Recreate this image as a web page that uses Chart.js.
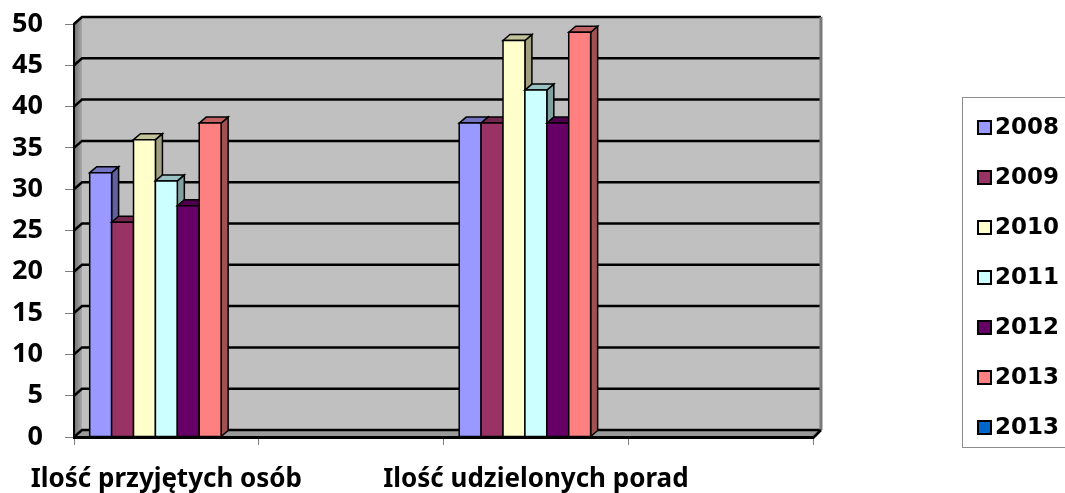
<!DOCTYPE html>
<html>
<head>
<meta charset="utf-8">
<script src="https://cdn.jsdelivr.net/npm/chart.js@4/dist/chart.umd.min.js"></script>
<style>
  html, body { margin: 0; padding: 0; background: #fff; }
  #wrap { position: relative; width: 1065px; height: 493px; overflow: hidden; }
  #legend {
    position: absolute; left: 962px; top: 97px; width: 130px; height: 351px;
    border: 1px solid #8c8c8c; box-sizing: border-box; padding-top: 3px;
    font: bold 23px "DejaVu Sans", sans-serif;
  }
  #legend .item { height: 50px; line-height: 50px; white-space: nowrap; }
  #legend .sw {
    display: inline-block; width: 11px; height: 11px; border: 2px solid #000;
    margin-left: 14px; margin-right: 3px; vertical-align: -1px;
  }
</style>
</head>
<body>
<div id="wrap">
  <canvas id="chart" width="1065" height="493"></canvas>
  <div id="legend"></div>
</div>
<script>
const categories = ['Ilość przyjętych osób', '', 'Ilość udzielonych porad', ''];
const seriesNames = ['2008', '2009', '2010', '2011', '2012', '2013', '2013'];
const seriesColors = ['#9999ff', '#993366', '#ffffcc', '#ccffff', '#660066', '#ff8080', '#0066cc'];
const v2008 = [32, null, 38, null];
const v2009 = [26, null, 38, null];
const v2010 = [36, null, 48, null];
const v2011 = [31, null, 42, null];
const v2012 = [28, null, 38, null];
const v2013 = [38, null, 49, null];
const v2013b = [0, null, 0, null];
const seriesValues = [v2008, v2009, v2010, v2011, v2012, v2013, v2013b];
const yTicks = [0, 5, 10, 15, 20, 25, 30, 35, 40, 45, 50];

const WX = 8, WY = 7;   // wall depth
const BX = 7, BY = 6;   // bar depth

function shade(hex, f) {
  const n = parseInt(hex.slice(1), 16);
  const r = Math.round(((n >> 16) & 255) * f);
  const g = Math.round(((n >> 8) & 255) * f);
  const b = Math.round((n & 255) * f);
  return `rgb(${r},${g},${b})`;
}

function poly(ctx, pts, fill, stroke, lw) {
  ctx.beginPath();
  ctx.moveTo(pts[0][0], pts[0][1]);
  for (let i = 1; i < pts.length; i++) ctx.lineTo(pts[i][0], pts[i][1]);
  ctx.closePath();
  if (fill) { ctx.fillStyle = fill; ctx.fill(); }
  if (stroke) { ctx.strokeStyle = stroke; ctx.lineWidth = lw; ctx.stroke(); }
}

const wallsPlugin = {
  id: 'walls',
  beforeDraw(chart) {
    const { ctx, chartArea: a } = chart;
    const ys = chart.scales.y;
    ctx.save();
    // back wall
    ctx.fillStyle = '#c0c0c0';
    ctx.fillRect(a.left + WX, a.top - WY, a.right - a.left, a.bottom - a.top);
    // side wall
    const g = ctx.createLinearGradient(a.left, 0, a.left + WX, 0);
    g.addColorStop(0, '#707070');
    g.addColorStop(1, '#a8a8a8');
    poly(ctx, [[a.left, a.top], [a.left + WX, a.top - WY], [a.left + WX, a.bottom - WY], [a.left, a.bottom]], g);
    // floor
    poly(ctx, [[a.left, a.bottom], [a.left + WX, a.bottom - WY], [a.right + WX, a.bottom - WY], [a.right, a.bottom]], '#9a9a9a');
    // grid lines on the back and side wall
    ctx.strokeStyle = '#000';
    ctx.lineWidth = 2.5;
    for (const v of yTicks) {
      const y = ys.getPixelForValue(v);
      ctx.beginPath();
      ctx.moveTo(a.left, y);
      ctx.lineTo(a.left + WX, y - WY);
      ctx.lineTo(a.right + WX, y - WY);
      ctx.stroke();
    }
    // right edge of the back wall
    ctx.strokeStyle = '#7a7a7a';
    ctx.lineWidth = 3;
    ctx.beginPath();
    ctx.moveTo(a.right + WX, a.top - WY);
    ctx.lineTo(a.right + WX, a.bottom - WY);
    ctx.stroke();
    // front edge of the floor on the right
    ctx.strokeStyle = '#000';
    ctx.lineWidth = 2.5;
    ctx.beginPath();
    ctx.moveTo(a.right, a.bottom + 1);
    ctx.lineTo(a.right + WX, a.bottom - WY);
    ctx.stroke();
    ctx.restore();
  },
  afterDatasetsDraw(chart) {
    const { ctx } = chart;
    ctx.save();
    ctx.lineJoin = 'miter';
    for (let c = 0; c < categories.length; c++) {
      for (let i = 0; i < seriesValues.length; i++) {
        const val = seriesValues[i][c];
        if (!val) continue;
        const el = chart.getDatasetMeta(i).data[c];
        const L = el.x - el.width / 2, R = el.x + el.width / 2;
        const top = el.y, base = el.base;
        const col = seriesColors[i];
        poly(ctx, [[R, top], [R + BX, top - BY], [R + BX, base - BY], [R, base]], shade(col, 0.63), '#000', 1.5);
        poly(ctx, [[L, top], [L + BX, top - BY], [R + BX, top - BY], [R, top]], shade(col, 0.76), '#000', 1.5);
        poly(ctx, [[L, top], [R, top], [R, base], [L, base]], col, '#000', 1.5);
      }
    }
    ctx.restore();
  }
};

const chart = new Chart(document.getElementById('chart'), {
  type: 'bar',
  data: {
    labels: categories,
    datasets: seriesValues.map((d, i) => ({
      label: seriesNames[i],
      data: d,
      backgroundColor: seriesColors[i],
      borderWidth: 0,
      categoryPercentage: 0.83,
      barPercentage: 1.0,
    })),
  },
  options: {
    responsive: false,
    animation: false,
    devicePixelRatio: 1,
    layout: { padding: { top: 24, right: 252, bottom: 0, left: 0 } },
    plugins: {
      legend: { display: false },
      tooltip: { enabled: false },
    },
    scales: {
      x: {
        afterFit: (s) => { s.height = 56; s.paddingLeft = 0; s.paddingRight = 0; },
        grid: { drawOnChartArea: false, drawTicks: true, tickLength: 8, color: '#808080', offset: true },
        border: { display: true, color: '#000', width: 3 },
        ticks: {
          autoSkip: false, maxRotation: 0, padding: 19, color: '#000',
          font: { family: 'Noto Sans', size: 26, weight: 'bold' },
        },
      },
      y: {
        min: 0, max: 50,
        afterFit: (s) => { s.width = 74; s.paddingTop = 0; s.paddingBottom = 0; },
        grid: { drawOnChartArea: false, drawTicks: true, tickLength: 9, color: '#808080' },
        border: { display: true, color: '#000', width: 2 },
        ticks: {
          stepSize: 5, padding: 22, color: '#000',
          font: { family: 'Noto Sans', size: 27, weight: 'bold' },
        },
      },
    },
  },
  plugins: [wallsPlugin],
});

document.getElementById('legend').innerHTML = seriesNames.map((n, i) =>
  `<div class="item"><span class="sw" style="background:${seriesColors[i]}"></span>${n}</div>`
).join('');
</script>
</body>
</html>
